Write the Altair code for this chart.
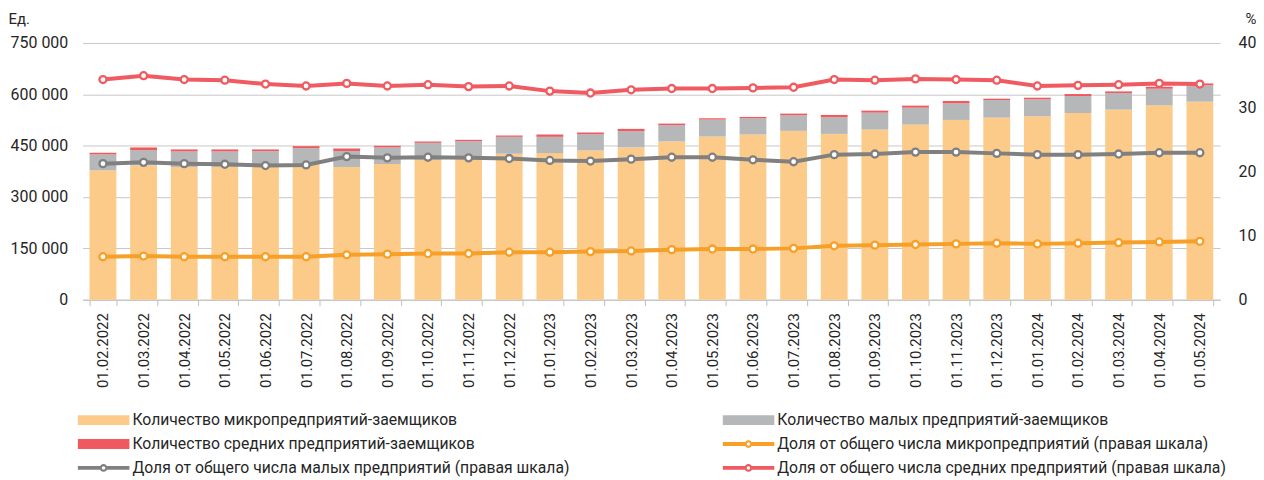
import altair as alt
import pandas as pd

FONT = "Roboto"
TXT = "#262626"

dates = ["01.02.2022", "01.03.2022", "01.04.2022", "01.05.2022", "01.06.2022", "01.07.2022",
         "01.08.2022", "01.09.2022", "01.10.2022", "01.11.2022", "01.12.2022", "01.01.2023",
         "01.02.2023", "01.03.2023", "01.04.2023", "01.05.2023", "01.06.2023", "01.07.2023",
         "01.08.2023", "01.09.2023", "01.10.2023", "01.11.2023", "01.12.2023", "01.01.2024",
         "01.02.2024", "01.03.2024", "01.04.2024", "01.05.2024"]

micro = [378000, 392400, 387600, 387600, 388600, 395300, 387600, 396300, 408900, 413800,
         426400, 428300, 436000, 444800, 462200, 476700, 482600, 493200, 484500, 497100,
         511600, 525200, 532000, 535800, 545500, 555200, 567800, 578500]
small = [46400, 44600, 45500, 45500, 45500, 47500, 46500, 48500, 49400, 49400,
         49400, 47500, 47500, 47400, 47500, 49500, 47400, 45600, 48400, 49400,
         49400, 48400, 51300, 49500, 49500, 48500, 48500, 47500]
medium = [4900, 7800, 5900, 5900, 4900, 5800, 7800, 4800, 3900, 3900,
          3900, 6800, 4900, 6800, 4800, 3800, 3900, 4800, 6800, 5800,
          5900, 6800, 3900, 4800, 5800, 4800, 5800, 5800]

micro_share = [6.7, 6.8, 6.7, 6.7, 6.7, 6.7, 7.0, 7.1, 7.2, 7.2, 7.4, 7.4, 7.5, 7.6,
               7.8, 7.9, 7.9, 8.0, 8.4, 8.5, 8.6, 8.7, 8.8, 8.7, 8.8, 8.9, 9.0, 9.1]
small_share = [21.2, 21.4, 21.2, 21.1, 20.9, 21.0, 22.3, 22.1, 22.2, 22.1, 22.0, 21.7, 21.6, 21.9,
               22.2, 22.2, 21.8, 21.5, 22.6, 22.7, 23.0, 23.0, 22.8, 22.6, 22.6, 22.7, 22.9, 22.9]
medium_share = [34.3, 34.9, 34.3, 34.2, 33.6, 33.3, 33.7, 33.3, 33.5, 33.2, 33.3, 32.5, 32.2, 32.7,
                32.9, 32.9, 33.0, 33.1, 34.3, 34.2, 34.4, 34.3, 34.2, 33.3, 33.4, 33.5, 33.7, 33.6]

S_MICRO = "Количество микропредприятий-заемщиков"
S_SMALL = "Количество малых предприятий-заемщиков"
S_MED = "Количество средних предприятий-заемщиков"
L_MICRO = "Доля от общего числа микропредприятий (правая шкала)"
L_SMALL = "Доля от общего числа малых предприятий  (правая шкала)"
L_MED = "Доля от общего числа средних предприятий  (правая шкала)"

series = [S_MICRO, S_SMALL, S_MED, L_MICRO, L_SMALL, L_MED]
colors = ["#FCCB89", "#B6B7B9", "#F05A5F", "#F7A028", "#808080", "#F05A61"]

y_ticks = [0, 150000, 300000, 450000, 600000, 750000]
pct_ticks = [0, 10, 20, 30, 40]

bar_rows = []
for d, a, b, c in zip(dates, micro, small, medium):
    bar_rows.append({"date": d, "series": S_MICRO, "value": a, "ord": 0})
    bar_rows.append({"date": d, "series": S_SMALL, "value": b, "ord": 1})
    bar_rows.append({"date": d, "series": S_MED, "value": c, "ord": 2})
bars_df = pd.DataFrame(bar_rows)

line_rows = []
for name, vals in [(L_MICRO, micro_share), (L_SMALL, small_share), (L_MED, medium_share)]:
    for d, v in zip(dates, vals):
        line_rows.append({"date": d, "series": name, "pct": v})
lines_df = pd.DataFrame(line_rows)

# legend glyphs (custom symbol paths on the [-1, 1] square)
RECT = "M-1,-0.19H1V0.19H-1Z"
LINE = ("M-1,-0.075H-0.14V0.075H-1Z"
        "M0.14,-0.075H1V0.075H0.14Z"
        "M-0.15,0A0.15,0.15,0,1,1,0.15,0A0.15,0.15,0,1,1,-0.15,0Z"
        "M-0.065,0A0.065,0.065,0,1,0,0.065,0A0.065,0.065,0,1,0,-0.065,0Z")
shapes = [RECT, RECT, RECT, LINE, LINE, LINE]

legend = alt.Legend(
    title=None, orient="none", direction="horizontal", legendX=-5, legendY=369,
    columns=2, columnPadding=149, rowPadding=4, clipHeight=20, symbolSize=2704,
    symbolStrokeWidth=0, symbolFillColor="#000000", symbolStrokeColor="#000000",
    symbolOpacity=1, labelOffset=3, labelFontSize=15.8, labelFont=FONT, labelColor=TXT,
    labelLimit=0, padding=0, offset=0,
)

color_scale = alt.Scale(domain=series, range=colors)

x = alt.X("date:N", sort=dates,
          scale=alt.Scale(paddingInner=0.34, paddingOuter=0.17),
          axis=alt.Axis(title=None, labelAngle=-90, labelFontSize=15, labelPadding=7,
                        tickSize=6, tickBand="extent", tickColor="#BFBFBF",
                        domainColor="#BFBFBF", grid=False, labelColor=TXT, labelFont=FONT))

bars = alt.Chart(bars_df).mark_bar().encode(
    x=x,
    y=alt.Y("value:Q", stack="zero", scale=alt.Scale(domain=[0, 750000]),
            axis=alt.Axis(values=y_ticks, title="Ед.", titleAngle=0, titleAlign="left",
                          titleBaseline="middle", titleX=-75, titleY=-25, titleFontSize=15,
                          titleFontWeight="normal", titleColor=TXT, titleFont=FONT,
                          labelExpr="replace(format(datum.value, ','), ',', ' ')",
                          labelFontSize=16, labelPadding=15, labelColor=TXT, labelFont=FONT,
                          ticks=False, tickSize=0, domain=False, grid=True,
                          gridColor="#C8C8C8", gridWidth=1)),
    color=alt.Color("series:N", scale=color_scale, legend=None),
    order=alt.Order("ord:Q", sort="ascending"),
)

lines = alt.Chart(lines_df).mark_line(
    strokeWidth=4,
    point=alt.OverlayMarkDef(size=50, filled=False, fill="white", strokeWidth=2.3, opacity=1),
).encode(
    x=x,
    y=alt.Y("pct:Q", scale=alt.Scale(domain=[0, 40]),
            axis=alt.Axis(orient="right", values=pct_ticks, title="%", titleAngle=0,
                          titleAlign="right", titleBaseline="middle", titleX=36, titleY=-25,
                          titleFontSize=15, titleFontWeight="normal", titleColor=TXT,
                          titleFont=FONT, labelFontSize=16, labelPadding=18, labelColor=TXT,
                          labelFont=FONT, ticks=False, tickSize=0, domain=False, grid=False)),
    color=alt.Color("series:N", scale=color_scale, legend=None),
)

# legend-only layer: no rows survive the filter, only the combined colour/shape legend is drawn
legend_layer = alt.Chart(lines_df).mark_point(filled=True, opacity=1).encode(
    color=alt.Color("series:N", scale=color_scale, legend=legend),
    shape=alt.Shape("series:N", scale=alt.Scale(domain=series, range=shapes), legend=legend),
).transform_filter("false")

chart = alt.layer(bars, lines, legend_layer).resolve_scale(
    y="independent"
).resolve_legend(color="independent", shape="independent").properties(
    width=1143, height=258,
    padding={"left": 75, "top": 34, "right": 36, "bottom": 178},
    autosize=alt.AutoSizeParams(type="none"),
).configure_view(stroke=None)

chart.save("out.html", embed_options={"renderer": "svg", "actions": False})
